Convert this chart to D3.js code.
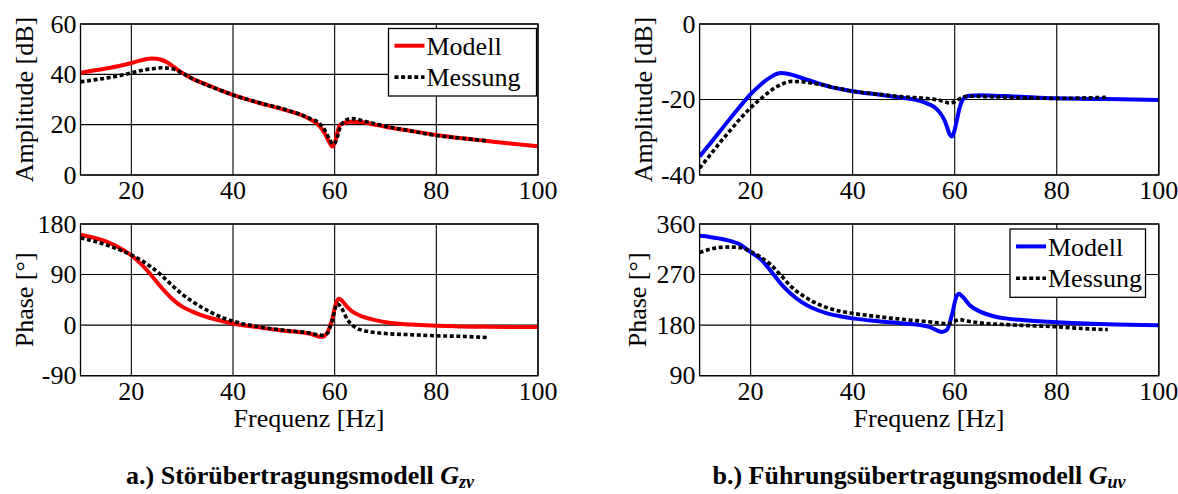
<!DOCTYPE html>
<html>
<head>
<meta charset="utf-8">
<script src="https://cdn.jsdelivr.net/npm/d3@7"></script>
<style>
  html, body { margin: 0; padding: 0; background: #fff; }
  svg { display: block; }
</style>
</head>
<body>
<script>
// Frequency axis ticks shared by all four plots
const freqTicks = [20, 40, 60, 80, 100];

// a.) Störübertragungsmodell G_zv – Amplitude [dB]
const freqAmpModellZv = [10,12,15,18,20,22,24,25,26,27,28,29,30,32,35,38,40,45,50,55,57,58,59,59.5,60,60.5,61,62,63,65,67,70,75,80,85,90,95,100];
const ampModellZv     = [40.6,41.3,42.3,43.5,44.5,45.6,46.3,46.2,45.7,44.8,43.5,42.0,40.6,38.3,35.8,33.3,31.8,28.7,26.0,22.3,19.5,16.7,12.8,11.3,12.7,16.5,19.8,20.8,21.2,21.1,20.4,19.2,17.5,15.9,14.6,13.5,12.4,11.4];
const freqAmpMessungZv = [10,12,15,18,20,22,24,26,28,30,32,35,38,40,45,50,55,57,58,59,59.7,60.3,61,62,63,64,66,70,75,80,85,90];
const ampMessungZv     = [37.0,37.6,38.5,39.6,40.6,41.5,42.2,42.6,42.2,40.5,38.3,35.6,33.3,31.8,28.8,26.2,22.6,20.5,18.0,14.2,12.2,13.6,18.5,21.5,22.4,22.3,21.3,19.4,17.5,15.7,14.6,13.6];

// a.) Phase [°]
const freqPhaseModellZv = [10,12,15,18,20,22,24,26,28,30,32,35,38,40,45,50,55,57.5,58.5,59.5,60.3,60.8,61.5,62.5,63.5,65,68,70,75,80,90,100];
const phaseModellZv     = [161,157,149,136,124,108,88,66,47,33,24,14,7,3,-4,-10,-15,-21,-14,10,40,47,43,32,24,17,9,5,1,-1,-3,-3.5];
const freqPhaseMessungZv = [10,12,15,18,20,22,24,26,28,30,32,35,38,40,45,50,55,57.5,58.5,59.5,60.5,61.5,62.5,63.5,65,70,75,80,85,90];
const phaseMessungZv     = [155,151,143,133,125,115,103,88,71,55,42,26,13,7,-3,-9,-14,-18,-15,8,38,28,10,0,-8,-15,-17,-19,-20,-22];

// b.) Führungsübertragungsmodell G_uv – Amplitude [dB]
const freqAmpModellUv = [10,12,14,16,18,20,22,24,25,26,27,28,30,33,36,40,45,50,53,55,56,57,58,58.5,59,59.5,60,60.5,61,61.5,62,63,65,70,75,80,90,100];
const ampModellUv     = [-35.1,-31.8,-28.4,-25,-21.7,-18.6,-16,-14,-13.3,-13,-13.1,-13.4,-14.3,-15.6,-16.8,-17.8,-18.7,-19.6,-20.3,-21.3,-22,-23.3,-25.5,-27.3,-29.2,-29.8,-28,-25,-22,-20.2,-19.4,-19,-18.9,-19.1,-19.4,-19.7,-19.9,-20.1];
const freqAmpMessungUv = [10,12,14,16,18,20,22,24,26,28,30,33,36,40,45,50,55,57,58,59,60,61,62,63,65,70,75,80,85,90];
const ampMessungUv     = [-38.2,-34.8,-31.4,-28.2,-25,-22.2,-19.8,-17.6,-16,-15.2,-15.3,-15.9,-16.7,-17.8,-18.6,-19.3,-19.8,-20.2,-20.6,-20.9,-20.6,-19.8,-19.2,-19.1,-19.2,-19.4,-19.6,-19.7,-19.6,-19.4];

// b.) Phase [°]
const freqPhaseModellUv = [10,12,15,18,20,22,24,26,28,30,32,35,38,40,45,50,55,57.5,58.5,59.5,60.3,60.8,61.5,63,65,68,70,75,80,90,100];
const phaseModellUv     = [339,337,332,323,310,297,276,253,235,221,211,201,195,192,187,183,177,168,172,200,230,236,231,215,204,195,192,188,185,181.5,180];
const freqPhaseMessungUv = [10,12,15,18,20,22,24,26,28,30,32,35,38,40,45,50,55,58,59,60,61,62,65,70,75,80,85,90];
const phaseMessungUv     = [309,315,319,318,311,301,287,268,248,234,223,211,204,201,195,190,186,183,183,187,190,188,184,181,179,177,174,172];

// Axis ranges and tick labels
const ampTicksZv = [0, 20, 40, 60];
const ampTicksUv = [-40, -20, 0];
const phaseTicksZv = [-90, 0, 90, 180];
const phaseTicksUv = [90, 180, 270, 360];

const legendLabels = ["Modell", "Messung"];
const colorZv = "#ff0000";
const colorUv = "#0000ff";

const W = 1178, H = 494;
const SERIF = "'Liberation Serif', 'Times New Roman', Times, 'DejaVu Serif', serif";
const svg = d3.select("body").append("svg")
  .attr("width", W).attr("height", H)
  .attr("font-family", SERIF);
svg.append("rect").attr("width", W).attr("height", H).attr("fill", "#fff");

const FONT = 26;

const zip = (xs, ys) => xs.map((x, i) => [x, ys[i]]);

function drawPanel(cfg) {
  const { x0, x1, y0, y1, yTicks, yLabel, labelX, series, legend, id } = cfg;
  const x = d3.scaleLinear().domain([10, 100]).range([x0, x1]);
  const y = d3.scaleLinear().domain([yTicks[0], yTicks[yTicks.length - 1]]).range([y1, y0]);
  const g = svg.append("g");

  // grid
  g.selectAll(null).data(freqTicks).join("line")
    .attr("x1", d => x(d)).attr("x2", d => x(d))
    .attr("y1", y0).attr("y2", y1)
    .attr("stroke", "#000").attr("stroke-width", 1.1);
  g.selectAll(null).data(yTicks).join("line")
    .attr("x1", x0).attr("x2", x1)
    .attr("y1", d => y(d)).attr("y2", d => y(d))
    .attr("stroke", "#000").attr("stroke-width", 1.1);

  // tick labels
  g.selectAll(null).data(freqTicks).join("text")
    .attr("x", d => x(d)).attr("y", y1 + 24)
    .attr("text-anchor", "middle").attr("font-size", FONT)
    .text(d => d);
  g.selectAll(null).data(yTicks).join("text")
    .attr("x", x0 - 4).attr("y", d => y(d)).attr("dy", "0.33em")
    .attr("text-anchor", "end").attr("font-size", FONT)
    .text(d => d);

  // y label
  g.append("text")
    .attr("transform", `translate(${labelX},${(y0 + y1) / 2}) rotate(-90)`)
    .attr("text-anchor", "middle").attr("font-size", FONT)
    .text(yLabel);

  // curves
  const clipId = "clip" + id;
  svg.append("clipPath").attr("id", clipId).append("rect")
    .attr("x", x0).attr("y", y0).attr("width", x1 - x0).attr("height", y1 - y0);
  const line = d3.line().x(d => x(d[0])).y(d => y(d[1])).curve(d3.curveMonotoneX);
  const cg = g.append("g").attr("clip-path", `url(#${clipId})`);
  series.forEach(s => {
    cg.append("path").attr("d", line(s.data))
      .attr("fill", "none").attr("stroke", s.color)
      .attr("stroke-width", s.dashed ? 3.6 : 4)
      .attr("stroke-dasharray", s.dashed ? "4,2.6" : null)
      .attr("stroke-linejoin", "round");
  });

  // frame
  g.append("rect").attr("x", x0).attr("y", y0)
    .attr("width", x1 - x0).attr("height", y1 - y0)
    .attr("fill", "none").attr("stroke", "#000").attr("stroke-width", 1.3);

  // legend
  if (legend) {
    const { lx0, lx1, ly0, ly1, color } = legend;
    g.append("rect").attr("x", lx0).attr("y", ly0)
      .attr("width", lx1 - lx0).attr("height", ly1 - ly0)
      .attr("fill", "#fff").attr("stroke", "#000").attr("stroke-width", 1.3);
    const rowY = [ly0 + (ly1 - ly0) * 0.255, ly0 + (ly1 - ly0) * 0.72];
    legendLabels.forEach((lab, i) => {
      g.append("line")
        .attr("x1", lx0 + 6).attr("x2", lx0 + 36)
        .attr("y1", rowY[i]).attr("y2", rowY[i])
        .attr("stroke", i === 0 ? color : "#000")
        .attr("stroke-width", i === 0 ? 4 : 3.6)
        .attr("stroke-dasharray", i === 0 ? null : "4,2.6");
      g.append("text").attr("x", lx0 + 38).attr("y", rowY[i]).attr("dy", "0.35em")
        .attr("font-size", FONT).text(lab);
    });
  }
}

// Left column: G_zv
drawPanel({
  id: "a1", x0: 80.5, x1: 538, y0: 24, y1: 175,
  yTicks: ampTicksZv, yLabel: "Amplitude [dB]", labelX: 33,
  series: [
    { data: zip(freqAmpModellZv, ampModellZv), color: colorZv },
    { data: zip(freqAmpMessungZv, ampMessungZv), color: "#000", dashed: true }
  ],
  legend: { lx0: 388.5, lx1: 536.5, ly0: 28.5, ly1: 96, color: colorZv }
});
drawPanel({
  id: "a2", x0: 80.5, x1: 538, y0: 224, y1: 375.7,
  yTicks: phaseTicksZv, yLabel: "Phase [°]", labelX: 33,
  series: [
    { data: zip(freqPhaseModellZv, phaseModellZv), color: colorZv },
    { data: zip(freqPhaseMessungZv, phaseMessungZv), color: "#000", dashed: true }
  ]
});

// Right column: G_uv
drawPanel({
  id: "b1", x0: 699.6, x1: 1158.8, y0: 24, y1: 175,
  yTicks: ampTicksUv, yLabel: "Amplitude [dB]", labelX: 652,
  series: [
    { data: zip(freqAmpModellUv, ampModellUv), color: colorUv },
    { data: zip(freqAmpMessungUv, ampMessungUv), color: "#000", dashed: true }
  ]
});
drawPanel({
  id: "b2", x0: 699.6, x1: 1158.8, y0: 224, y1: 375.7,
  yTicks: phaseTicksUv, yLabel: "Phase [°]", labelX: 646,
  series: [
    { data: zip(freqPhaseModellUv, phaseModellUv), color: colorUv },
    { data: zip(freqPhaseMessungUv, phaseMessungUv), color: "#000", dashed: true }
  ],
  legend: { lx0: 1010, lx1: 1145.5, ly0: 229, ly1: 297.3, color: colorUv }
});

// x-axis titles
[309, 929].forEach(cx => {
  svg.append("text").attr("x", cx).attr("y", 427)
    .attr("text-anchor", "middle").attr("font-size", FONT).text("Frequenz [Hz]");
});

// captions
function caption(cx, label, sub) {
  const t = svg.append("text").attr("x", cx).attr("y", 484)
    .attr("text-anchor", "middle").attr("font-size", 26).attr("font-weight", "bold");
  t.append("tspan").text(label + " ");
  t.append("tspan").attr("font-style", "italic").text("G");
  t.append("tspan").attr("font-style", "italic").attr("font-size", 18).attr("dy", 4).text(sub);
}
caption(300, "a.) Störübertragungsmodell", "zv");
caption(919, "b.) Führungsübertragungsmodell", "uv");
</script>
</body>
</html>
